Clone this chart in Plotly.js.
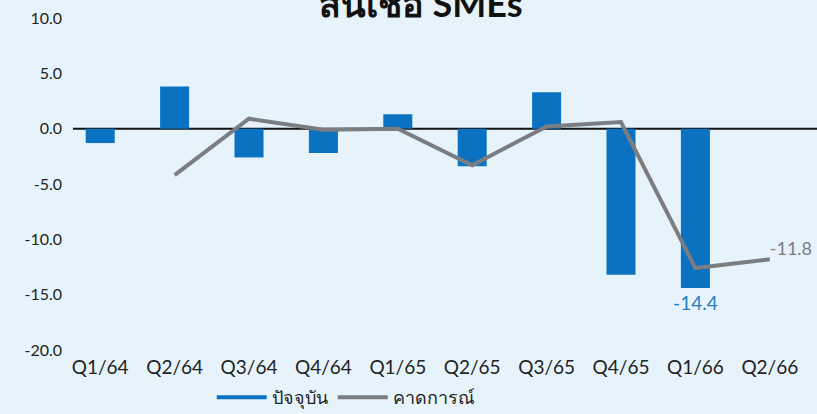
<!DOCTYPE html>
<html>
<head>
<meta charset="utf-8">
<script src="https://cdn.plot.ly/plotly-3.0.1.min.js"></script>
<style>
html,body{margin:0;padding:0;background:#e7f3fb;}
#chart{width:817px;height:414px;}
</style>
</head>
<body>
<div id="chart"></div>
<script>
// ---- data ----
const categories = ["Q1/64","Q2/64","Q3/64","Q4/64","Q1/65","Q2/65","Q3/65","Q4/65","Q1/66","Q2/66"];
const currentValues = [-1.3, 3.8, -2.6, -2.2, 1.3, -3.4, 3.3, -13.2, -14.4, null];
const forecastValues = [null, -4.2, 0.9, -0.1, 0.0, -3.3, 0.2, 0.6, -12.6, -11.8];
const currentLabels = ["", "", "", "", "", "", "", "", "-14.4", ""];
const forecastLabels = ["", "", "", "", "", "", "", "", "", "-11.8"];
const seriesNames = ["ปัจจุบัน", "คาดการณ์"];
const yTickVals = [-20, -15, -10, -5, 0, 5, 10];
const yTickText = ["-20.0", "-15.0", "-10.0", "-5.0", "0.0", "5.0", "10.0"];
const titleText = "สินเชื่อ SMEs";

const blue = "#0a72c1";
const gray = "#7b7d80";
const fontFam = "Lato, 'Noto Sans', 'DejaVu Sans', sans-serif";

const traces = [
  {
    type: "bar", x: categories, y: currentValues, name: seriesNames[0],
    marker: {color: blue}, showlegend: false,
    text: currentLabels, textposition: "outside", cliponaxis: false,
    constraintext: "none",
    textfont: {color: "#1f7fc2", size: 19, family: fontFam},
    hoverinfo: "x+y"
  },
  {
    type: "scatter", mode: "lines+text", x: categories, y: forecastValues, name: seriesNames[1],
    line: {color: gray, width: 4}, showlegend: false, connectgaps: false,
    text: forecastLabels, textposition: "top right", cliponaxis: false,
    textfont: {color: "#7b7d80", size: 18, family: fontFam}
  },
  // legend entries (line samples, as in the reference)
  {type: "scatter", mode: "lines", x: [null], y: [null], name: seriesNames[0],
   line: {color: blue, width: 4}, showlegend: true},
  {type: "scatter", mode: "lines", x: [null], y: [null], name: seriesNames[1],
   line: {color: gray, width: 4}, showlegend: true}
];

const layout = {
  width: 817, height: 414,
  paper_bgcolor: "#e7f3fb", plot_bgcolor: "#e7f3fb",
  margin: {l: 63, r: 10, t: 18, b: 64, autoexpand: false},
  font: {family: fontFam, color: "#222"},
  title: {
    text: "<b>" + titleText + "</b>",
    font: {size: 36, color: "#111", family: fontFam},
    x: 0.515, xanchor: "center", y: 0.99, yref: "container", yanchor: "middle"
  },
  bargap: 0.61,
  xaxis: {
    type: "category", showgrid: false, zeroline: false, showline: false,
    ticks: "", tickfont: {size: 19, color: "#222"}, fixedrange: true,
    ticklabelstandoff: 4, automargin: false
  },
  yaxis: {
    range: [-20, 10], showgrid: false, zeroline: false, showline: false,
    tickvals: yTickVals, ticktext: yTickText, ticks: "",
    tickfont: {size: 16, color: "#222"}, fixedrange: true, automargin: false
  },
  shapes: [{
    type: "line", xref: "paper", yref: "y", x0: 0.0134, x1: 1.02, y0: 0, y1: 0,
    line: {color: "#111", width: 2}, layer: "below"
  }],
  legend: {
    orientation: "h", x: 0.38, xanchor: "center",
    yref: "container", y: 0.04, yanchor: "middle",
    font: {size: 18, color: "#222"}, bgcolor: "rgba(0,0,0,0)",
    itemwidth: 50, tracegroupgap: 0
  },
  showlegend: true
};

Plotly.newPlot("chart", traces, layout, {displayModeBar: false, staticPlot: true});
</script>
</body>
</html>
